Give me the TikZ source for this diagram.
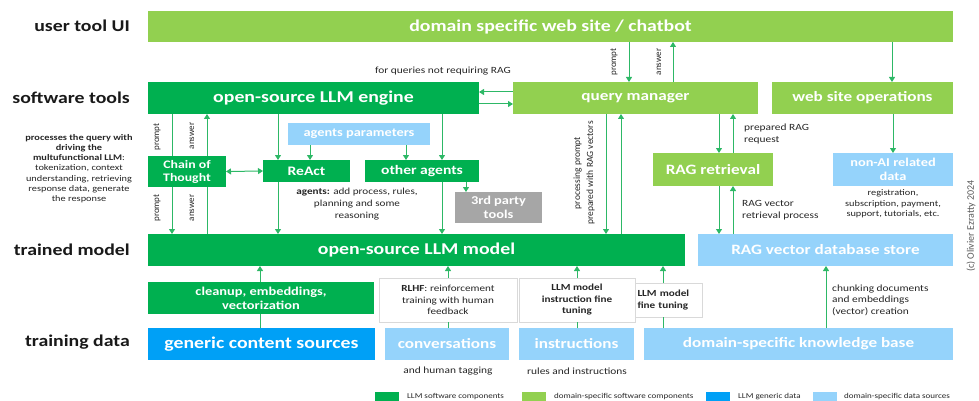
\documentclass[tikz,border=0pt]{standalone}
\usepackage{fontspec}
\setmainfont{Carlito}[FakeStretch=1.2]
\newfontfamily\plainfont{Carlito}
\usetikzlibrary{arrows.meta}
\definecolor{dg}{HTML}{00B050}
\definecolor{lg}{HTML}{92D050}
\definecolor{bl}{HTML}{00A0F6}
\definecolor{lb}{HTML}{95D3FB}
\definecolor{gr}{HTML}{A6A6A6}
\definecolor{ln}{HTML}{2DB866}
\definecolor{tx}{HTML}{262626}
\definecolor{bd}{HTML}{D9D9D9}
\newcommand\fbig{\fontsize{16.5}{19}\selectfont\bfseries}
\newcommand\fmed{\fontsize{14.3}{16}\selectfont\bfseries}
\newcommand\fag{\fontsize{13}{15}\selectfont\bfseries}
\newcommand\fsm{\fontsize{12}{14}\selectfont\bfseries}
\newcommand\fcot{\fontsize{11.5}{13}\selectfont\bfseries}
\newcommand\fnote{\fontsize{9.5}{11.5}\selectfont}
\newcommand\fbx{\fontsize{9.3}{11.5}\selectfont}
\newcommand\fdesc{\fontsize{8.6}{10.2}\selectfont}
\newcommand\fleg{\fontsize{7.5}{9}\selectfont}
\newcommand\frot{\plainfont\fontsize{9}{13}\selectfont}
\tikzset{
  box/.style={inner sep=0pt, outer sep=0pt, text=white, align=center},
  wbox/.style={inner sep=0pt, outer sep=0pt, fill=white, draw=bd, line width=0.6pt, text=tx, align=center, font=\fbx},
  rowlab/.style={anchor=east, inner sep=0pt, text=black!90, font=\fbig},
  note/.style={inner sep=0pt, text=tx, font=\fnote, align=center},
  rlab/.style={inner sep=0pt, text=tx, font=\frot, align=center, rotate=90},
  sw/.style={inner sep=0pt, minimum width=24pt, minimum height=9pt},
  leg/.style={anchor=west, inner sep=0pt, text=tx, font=\fleg},
  ar/.style={draw=ln, line width=1pt, -{Triangle[length=5pt,width=6pt]}},
  dar/.style={draw=ln, line width=1pt, {Triangle[length=5pt,width=6pt]}-{Triangle[length=5pt,width=6pt]}},
  pl/.style={draw=ln, line width=1pt}
}
\begin{document}
\begin{tikzpicture}[x=1pt,y=-1pt]
\useasboundingbox (0,0) rectangle (979,401);
% row labels
\node[rowlab] (l1) at (130,26) {user tool UI};
\node[rowlab] (l2) at (130,98) {software tools};
\node[rowlab] (l3) at (130,250) {trained model};
\node[rowlab] (l4) at (130,342) {training data};
% boxes
\node[box,fill=lg,minimum width=805pt,minimum height=31pt,font=\fbig] (chat) at (550.5,26.5) {domain specific web site / chatbot};
\node[box,fill=dg,minimum width=331pt,minimum height=32pt,font=\fbig] (eng) at (313.5,98) {open-source LLM engine};
\node[box,fill=lg,minimum width=245pt,minimum height=32pt,font=\fmed] (qm) at (635.5,98) {query manager};
\node[box,fill=lg,minimum width=181pt,minimum height=32pt,font=\fmed] (wso) at (862.5,98) {web site operations};
\node[box,fill=lb,minimum width=142pt,minimum height=22pt,font=\fsm] (agp) at (359,134) {agents parameters};
\node[box,fill=dg,minimum width=78pt,minimum height=31pt,font=\fcot] (cot) at (187,171.5) {Chain of\\Thought};
\node[box,fill=dg,minimum width=87pt,minimum height=22pt,font=\fag] (react) at (306.5,171) {ReAct};
\node[box,fill=dg,minimum width=114pt,minimum height=22pt,font=\fag] (oth) at (422,171) {other agents};
\node[box,fill=gr,minimum width=87pt,minimum height=31pt,font=\fsm] (tp) at (498.5,207.5) {3rd party\\tools};
\node[box,fill=lg,minimum width=120pt,minimum height=33pt,font=\fmed] (ragr) at (713,169.5) {RAG retrieval};
\node[box,fill=lb,minimum width=120pt,minimum height=33pt,font=\fsm] (nonai) at (893,169.5) {non-AI related\\data};
\node[box,fill=dg,minimum width=537pt,minimum height=32pt,font=\fbig] (model) at (416.5,250) {open-source LLM model};
\node[box,fill=lb,minimum width=255pt,minimum height=32pt,font=\fmed] (vdb) at (825.5,250) {RAG vector database store};
\node[box,fill=dg,minimum width=226pt,minimum height=32pt,font=\fsm] (clean) at (261,298) {cleanup, embeddings,\\vectorization};
\node[box,fill=bl,minimum width=227pt,minimum height=32pt,font=\fbig] (gen) at (261.5,344) {generic content sources};
\node[wbox,minimum width=138pt,minimum height=44pt] (rlhf) at (448,300) {\textbf{RLHF}: reinforcement\\training with human\\feedback};
\node[box,fill=lb,minimum width=124pt,minimum height=32pt,font=\fmed] (conv) at (447,344) {conversations};
\node[wbox,minimum width=116pt,minimum height=44pt,font=\fbx\bfseries] (ift) at (577,300) {LLM model\\instruction fine\\tuning};
\node[box,fill=lb,minimum width=115pt,minimum height=32pt,font=\fmed] (instr) at (576.5,344) {instructions};
\node[wbox,minimum width=67pt,minimum height=34pt,text width=62pt,align=left,font=\fbx\bfseries] (ft) at (668.5,300) {LLM model\\fine tuning};
\node[box,fill=lb,minimum width=309pt,minimum height=32pt,font=\fmed] (kb) at (798.5,344) {domain-specific knowledge base};
% notes
\node[note] (forq) at (443,71) {for queries not requiring RAG};
\node[note,font=\fdesc] (descr) at (79,168.5) {\textbf{processes the query with}\\\textbf{driving the}\\\textbf{multufunctional LLM}:\\tokenization, context\\understanding, retrieving\\response data, generate\\the response};
\node[note,font=\fdesc\fontsize{9.3}{12}\selectfont] (agn) at (357,204) {\textbf{agents:} add process, rules,\\planning and some\\reasoning};
\node[note,anchor=west,align=left] (prr) at (744,134) {prepared RAG\\request};
\node[note,anchor=west,align=left] (rvr) at (742,210) {RAG vector\\retrieval process};
\node[note,font=\fontsize{8.6}{10.5}\selectfont] (reg) at (893,204) {registration,\\subscription, payment,\\support, tutorials, etc.};
\node[note,anchor=west,align=left] (chk) at (832,300) {chunking documents\\and embeddings\\(vector) creation};
\node[note] (aht) at (448,371) {and human tagging};
\node[note] (rai) at (577,371) {rules and instructions};
% rotated labels
\node[rlab] (pr1) at (614,62) {prompt};
\node[rlab] (an1) at (659,62) {answer};
\node[rlab] (pr2) at (157,137) {prompt};
\node[rlab] (an2) at (192,136) {answer};
\node[rlab] (pr3) at (157,208) {prompt};
\node[rlab] (an3) at (192,208) {answer};
\node[rlab,font=\plainfont\fontsize{9.5}{13}\selectfont] (ppr) at (584,173) {processing prompt\\prepared with RAG vectors};
\node[rlab,font=\plainfont\fontsize{10}{12}\selectfont,text=black!65] (copy) at (971,226) {(c) Olivier Ezratty  2024};
% legend
\node[sw,fill=dg] (s1) at (387,396.5) {};
\node[leg] (t1) at (407,396.5) {LLM software components};
\node[sw,fill=lg] (s2) at (534,396.5) {};
\node[leg] (t2) at (554,396.5) {domain-specific software components};
\node[sw,fill=bl] (s3) at (718,396.5) {};
\node[leg] (t3) at (738,396.5) {LLM generic data};
\node[sw,fill=lb] (s4) at (825,396.5) {};
\node[leg] (t4) at (844,396.5) {domain-specific data sources};
% connectors
\draw[ar] (629,0 |- chat.south) -- (629,0 |- qm.north);
\draw[ar] (673,0 |- qm.north) -- (673,0 |- chat.south);
\draw[ar] (892,0 |- chat.south) -- (892,0 |- wso.north);
\draw[ar] (qm.west |- 0,92) -- (eng.east |- 0,92);
\draw[ar] (eng.east |- 0,104) -- (qm.west |- 0,104);
\draw[pl] (172,0 |- eng.south) -- (172,0 |- cot.north);
\draw[ar] (207,0 |- cot.north) -- (207,0 |- eng.south);
\draw[ar] (172,0 |- cot.south) -- (172,0 |- model.north);
\draw[pl] (207,0 |- model.north) -- (207,0 |- cot.south);
\draw[dar] (cot.east) -- (react.west);
\draw[ar] (278,0 |- eng.south) -- (278,0 |- react.north);
\draw[ar] (278,0 |- react.south) -- (278,0 |- model.north);
\draw[ar] (310,0 |- agp.south) -- (310,0 |- react.north);
\draw[ar] (406,0 |- agp.south) -- (406,0 |- oth.north);
\draw[ar] (442,0 |- eng.south) -- (442,0 |- oth.north);
\draw[ar] (442,0 |- oth.south) -- (442,0 |- model.north);
\draw[ar] (466,0 |- oth.south) -- (466,0 |- tp.north);
\draw[ar] (606,0 |- qm.south) -- (606,0 |- model.north);
\draw[ar] (621,0 |- model.north) -- (621,0 |- qm.south);
\draw[ar] (719,0 |- qm.south) -- (719,0 |- ragr.north);
\draw[ar] (733,0 |- ragr.north) -- (733,0 |- qm.south);
\draw[ar] (719,0 |- ragr.south) -- (719,0 |- vdb.north);
\draw[ar] (733,0 |- vdb.north) -- (733,0 |- ragr.south);
\draw[ar] (893,0 |- wso.south) -- (893,0 |- nonai.north);
\draw[ar] (260,0 |- clean.north) -- (260,0 |- model.south);
\draw[pl] (260,0 |- gen.north) -- (260,0 |- clean.south);
\draw[ar] (448,0 |- rlhf.north) -- (448,0 |- model.south);
\draw[pl] (448,0 |- conv.north) -- (448,0 |- rlhf.south);
\draw[ar] (577,0 |- ift.north) -- (577,0 |- model.south);
\draw[pl] (577,0 |- instr.north) -- (577,0 |- ift.south);
\draw[ar] (663,0 |- ft.north) -- (663,0 |- model.south);
\draw[pl] (663,0 |- kb.north) -- (663,0 |- ft.south);
\draw[ar] (826,0 |- kb.north) -- (826,0 |- vdb.south);
\end{tikzpicture}
\end{document}
